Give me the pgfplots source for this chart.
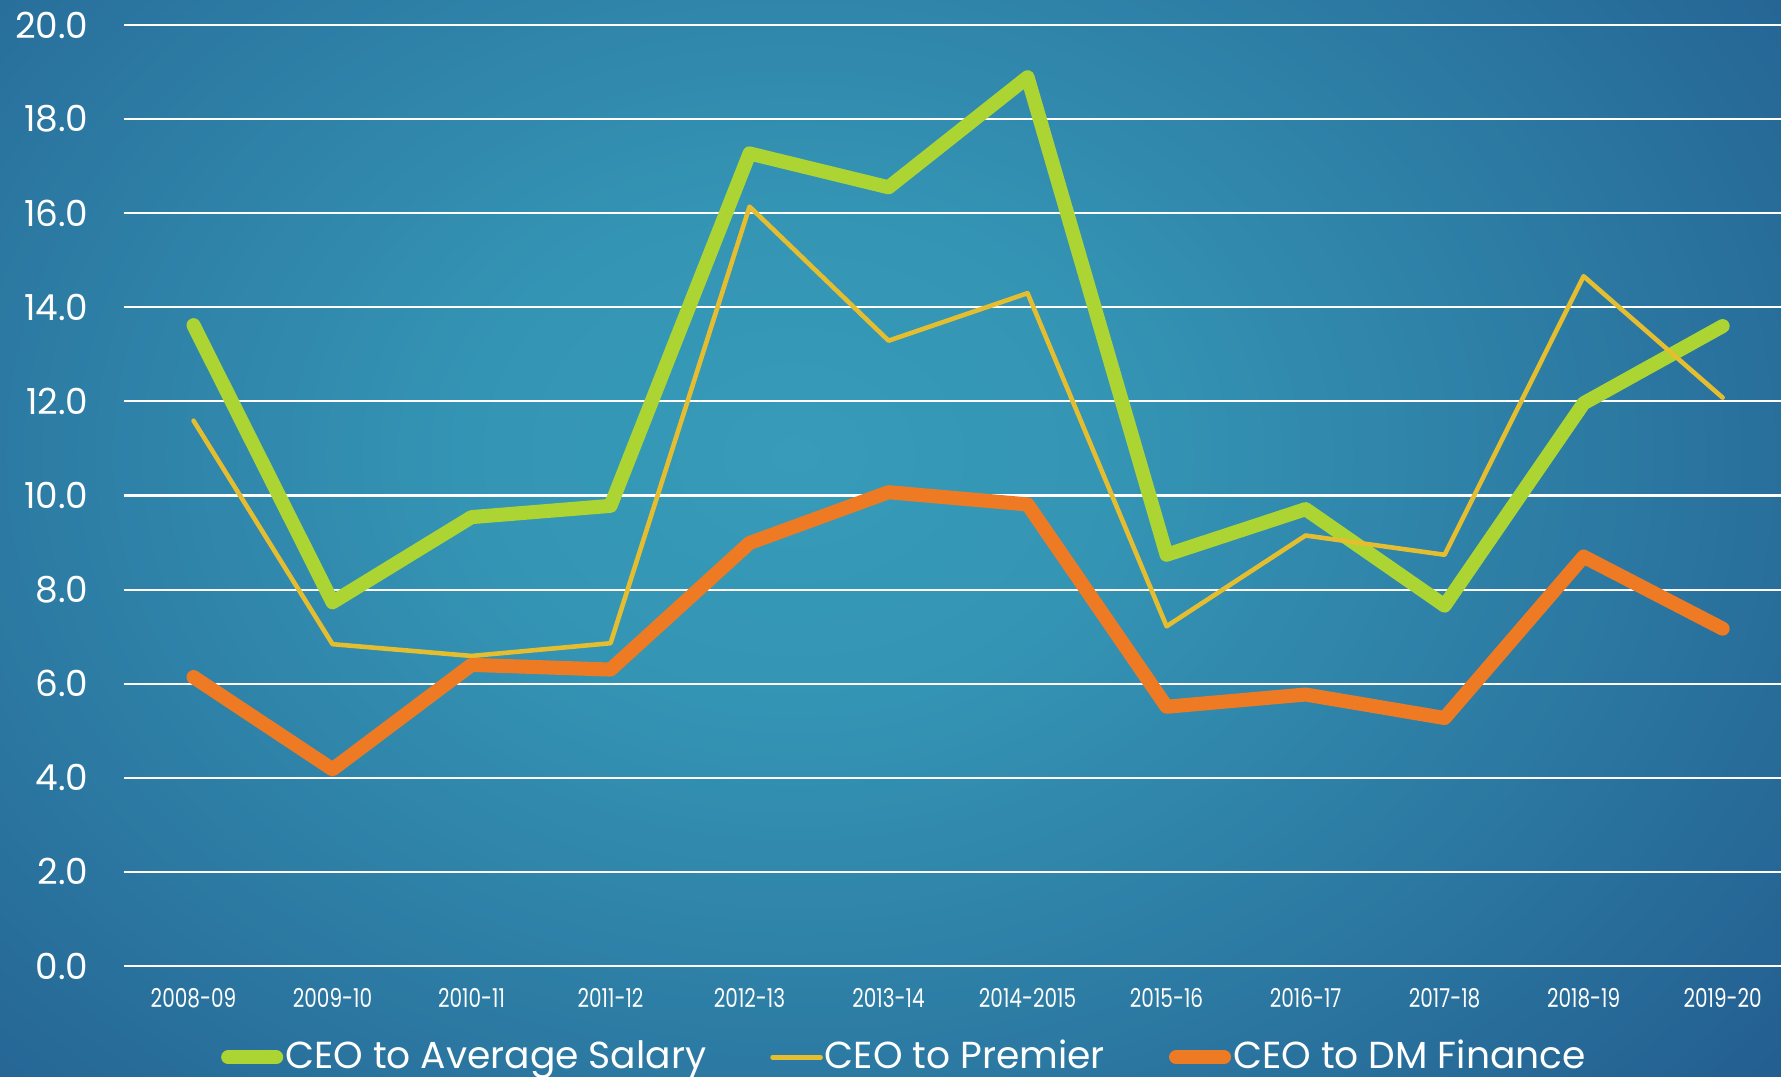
\documentclass[border=0pt]{standalone}
\usepackage{pgfplots}
\pgfplotsset{compat=1.18}
\usepackage{fontspec}
\setmainfont{Poppins}
\newfontfamily\xfont{Poppins}[FakeStretch=0.77]
\newfontfamily\yfont{Poppins}
\newfontfamily\lfont{Poppins}
\definecolor{cgreen}{RGB}{172,212,51}
\definecolor{cyellow}{RGB}{229,190,48}
\definecolor{corange}{RGB}{238,123,36}
\definecolor{bga}{RGB}{55,155,185}
\definecolor{bgb}{RGB}{52,148,180}
\definecolor{bgc}{RGB}{44,122,163}
\definecolor{bgd}{RGB}{33,88,140}
\definecolor{bge}{RGB}{25,76,132}
\definecolor{bgf}{RGB}{19,56,113}
\pgfdeclareradialshading{bgshade}{\pgfpoint{0bp}{0bp}}{color(0bp)=(bga); color(8bp)=(bgb); color(19bp)=(bgc); color(33bp)=(bgd); color(43bp)=(bge); color(55bp)=(bgf); color(75bp)=(bgf)}
\begin{document}
\begin{tikzpicture}
\useasboundingbox (0,0) rectangle (178.1mm,107.7mm);
\begin{scope}
\clip (0,0) rectangle (178.1mm,107.7mm);
\shade[shading=bgshade] (79.5mm-105mm,62.2mm-80mm) rectangle (79.5mm+105mm,62.2mm+80mm);
\end{scope}
\begin{axis}[
  at={(12.4mm,11.1mm)}, anchor=south west,
  scale only axis, width=165.7mm, height=94.1mm,
  xmin=-0.5, xmax=11.42, ymin=0, ymax=20,
  clip=false,
  axis line style={draw=none},
  major tick length=0pt,
  ytick={0,2,...,20},
  xtick={0,...,11},
  xticklabels={2008-09,2009-10,2010-11,2011-12,2012-13,2013-14,2014-2015,2015-16,2016-17,2017-18,2018-19,2019-20},
  ymajorgrids, grid style={white, line width=0.6pt},
  yticklabel style={font=\yfont\fontsize{10.2}{12}\selectfont, text=white, anchor=east, inner sep=0pt, xshift=-3.5mm,
    /pgf/number format/.cd, fixed, fixed zerofill, precision=1, assume math mode=true},
  xticklabel style={font=\xfont\fontsize{7.4}{9}\selectfont, text=white, anchor=north, inner sep=0pt, yshift=-2.2mm},
  legend style={at={(0.471,-0.097)}, anchor=center, draw=none, fill=none, text=white,
    font=\lfont\fontsize{10.7}{12}\selectfont, legend columns=3,
    /tikz/every even column/.append style={column sep=6.2mm},
    nodes={inner sep=0.2mm}},
  legend image code/.code={\draw[#1, line cap=round] (0mm,0mm) -- (4.8mm,0mm);},
  every axis plot/.append style={line join=round, line cap=round},
]
\addplot[cgreen, line width=4pt] coordinates {
(0,13.62) (1,7.73) (2,9.54) (3,9.78) (4,17.27) (5,16.55) (6,18.89) (7,8.74) (8,9.71) (9,7.66) (10,11.96) (11,13.6)};
\addlegendentry{CEO to Average Salary}
\addplot[cyellow, line width=1.3pt] coordinates {
(0,11.59) (1,6.84) (2,6.59) (3,6.86) (4,16.14) (5,13.29) (6,14.30) (7,7.22) (8,9.15) (9,8.74) (10,14.66) (11,12.08)};
\addlegendentry{CEO to Premier}
\addplot[corange, line width=4pt] coordinates {
(0,6.14) (1,4.18) (2,6.40) (3,6.30) (4,8.99) (5,10.07) (6,9.81) (7,5.51) (8,5.77) (9,5.27) (10,8.70) (11,7.17)};
\addlegendentry{CEO to DM Finance}
\end{axis}
\end{tikzpicture}
\end{document}
